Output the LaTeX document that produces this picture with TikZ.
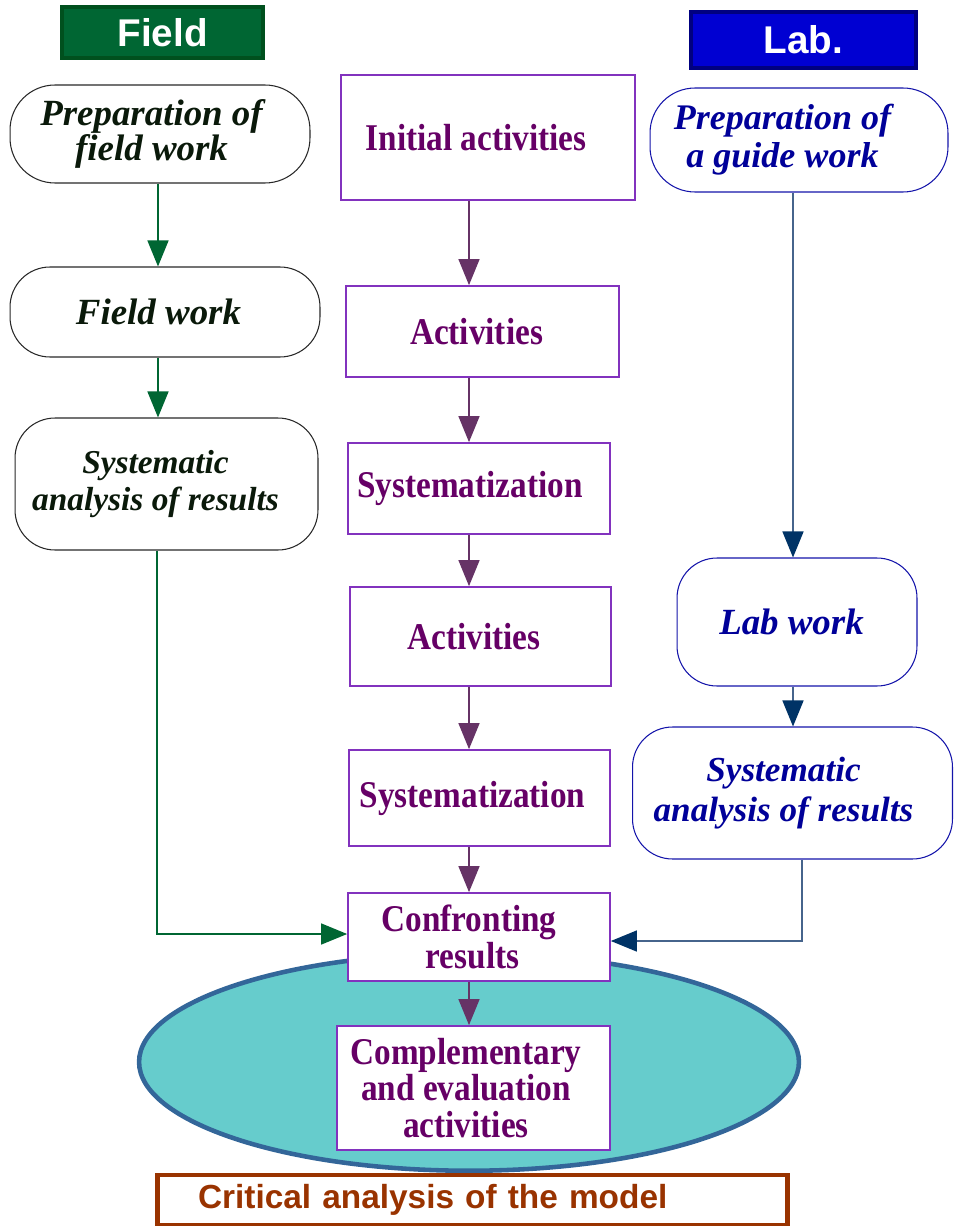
\documentclass[tikz,border=0pt]{standalone}
\usepackage{fontspec}
\setmainfont{Liberation Serif}
\newfontfamily\hdrfont{Liberation Sans}
\newfontfamily\condfont[FakeStretch=0.88]{Liberation Serif}
\usetikzlibrary{arrows.meta,shapes.geometric,calc}
\definecolor{fieldfill}{RGB}{0,102,51}
\definecolor{fieldbord}{RGB}{0,80,30}
\definecolor{labfill}{RGB}{0,0,210}
\definecolor{labbord}{RGB}{0,0,128}
\definecolor{ltext}{RGB}{10,25,10}
\definecolor{lbord}{RGB}{40,40,40}
\definecolor{rtext}{RGB}{0,0,153}
\definecolor{rbord}{RGB}{20,20,170}
\definecolor{ctext}{RGB}{102,0,102}
\definecolor{cbord}{RGB}{130,50,190}
\definecolor{garrow}{RGB}{0,102,51}
\definecolor{narrow}{RGB}{0,51,102}
\definecolor{nline}{RGB}{70,100,140}
\definecolor{parrow}{RGB}{102,51,102}
\definecolor{ellf}{RGB}{102,204,204}
\definecolor{ellb}{RGB}{51,102,153}
\definecolor{critc}{RGB}{153,51,0}
\newcommand{\lsh}[1]{\hspace*{#1}}
\begin{document}
\begin{tikzpicture}[x=0.02cm,y=-0.02cm,
  hdr/.style={draw, line width=2.3pt, text=white, inner sep=0,
    font=\hdrfont\bfseries\fontsize{22}{24}\selectfont},
  rbox/.style={draw, rounded corners=0.8cm, fill=white, line width=0.6pt,
    align=center, inner sep=0},
  leftbox/.style={rbox, draw=lbord, text=ltext},
  rightbox/.style={rbox, draw=rbord, text=rtext},
  cbox/.style={draw=cbord, line width=1pt, fill=white, text=ctext, align=center, inner sep=0,
    font=\condfont\bfseries\fontsize{21.5}{21}\selectfont},
  tip/.style={-{Triangle[length=0.52cm,width=0.42cm]}},
  garr/.style={tip, draw=garrow, line width=0.8pt},
  parr/.style={tip, draw=parrow, line width=0.8pt},
  narr/.style={-{Triangle[length=0.52cm,width=0.42cm,color=narrow]}, draw=nline, line width=0.8pt},
]
\useasboundingbox (0,0) rectangle (953,1226);

% headers
\node[hdr, draw=fieldbord, fill=fieldfill, minimum width=4.02cm, minimum height=1.02cm] (field) at (162.5,32.5) {Field};
\node[hdr, draw=labbord, fill=labfill, minimum width=4.5cm, minimum height=1.12cm] (lab) at (803.5,40) {Lab.};

% ellipse
\node[ellipse, draw=ellb, fill=ellf, line width=2.6pt, minimum width=13.2cm, minimum height=4.35cm, inner sep=0] (oval) at (469,1062) {};

% left column
\node[leftbox, rounded corners=0.9cm, minimum width=6cm, minimum height=1.96cm,
  font=\bfseries\itshape\fontsize{21}{20}\selectfont] (prepF) at (160,134) {\lsh{-0.34cm}Preparation of\\\lsh{-0.34cm}field work};
\node[leftbox, minimum width=6.2cm, minimum height=1.8cm,
  font=\bfseries\itshape\fontsize{21}{20}\selectfont] (fieldw) at (165,312) {\lsh{-0.26cm}Field work};
\node[leftbox, minimum width=6.06cm, minimum height=2.64cm,
  font=\bfseries\itshape\fontsize{19}{21}\selectfont] (sysL) at (166.5,484) {\lsh{-0.44cm}Systematic\\\lsh{-0.44cm}analysis of results};

% right column
\node[rightbox, rounded corners=0.9cm, minimum width=5.96cm, minimum height=2.08cm,
  font=\bfseries\itshape\fontsize{20.5}{21.5}\selectfont] (prepG) at (799,140) {\lsh{-0.66cm}Preparation of\\\lsh{-0.66cm}a guide work};
\node[rightbox, minimum width=4.8cm, minimum height=2.56cm,
  font=\bfseries\itshape\fontsize{21}{21}\selectfont] (labw) at (797,622) {\lsh{-0.22cm}Lab work};
\node[rightbox, minimum width=6.4cm, minimum height=2.64cm,
  font=\bfseries\itshape\fontsize{20}{22.7}\selectfont] (sysR) at (792.5,793) {\lsh{-0.36cm}Systematic\\\lsh{-0.36cm}analysis of results};

% centre column
\node[cbox, minimum width=5.88cm, minimum height=2.5cm] (init) at (488,137.5) {\lsh{-0.48cm}Initial activities};
\node[cbox, minimum width=5.46cm, minimum height=1.82cm] (act1) at (482.5,331.5) {\lsh{-0.24cm}Activities};
\node[cbox, minimum width=5.24cm, minimum height=1.82cm] (sys1) at (479,488.5) {\lsh{-0.36cm}Systematization};
\node[cbox, minimum width=5.22cm, minimum height=1.98cm] (act2) at (480.5,636.5) {\lsh{-0.26cm}Activities};
\node[cbox, minimum width=5.22cm, minimum height=1.92cm] (sys2) at (479.5,798) {\lsh{-0.28cm}Systematization};
\node[cbox, minimum width=5.24cm, minimum height=1.76cm] (conf) at (479,937) {\lsh{-0.4cm}Confronting\\\lsh{-0.26cm}results};
\node[cbox, minimum width=5.46cm, minimum height=2.48cm] (comp) at (473.5,1088) {\lsh{-0.3cm}Complementary\\\lsh{-0.3cm}and evaluation\\\lsh{-0.3cm}activities};

% bottom box
\node[draw=critc, line width=2.8pt, minimum width=12.6cm, minimum height=1.0cm, text width=10.98cm,
  align=left, inner sep=0, text=critc, font=\hdrfont\bfseries\fontsize{19}{20}\selectfont] (crit) at (472.5,1200) {Critical analysis of the model};

% connector x positions
\coordinate (lx) at (158,0);
\coordinate (lx2) at (157,0);
\coordinate (cx) at (469,0);
\coordinate (rx) at (793,0);
\coordinate (rx2) at (802,0);

% left arrows
\draw[garr] (prepF.south -| lx) -- (fieldw.north -| lx);
\draw[garr] (fieldw.south -| lx) -- (sysL.north -| lx);
\draw[garr] (sysL.south -| lx2) |- ($(conf.west)+(0,-3)$);

% centre arrows
\draw[parr] (init.south -| cx) -- (act1.north -| cx);
\draw[parr] (act1.south -| cx) -- (sys1.north -| cx);
\draw[parr] (sys1.south -| cx) -- (act2.north -| cx);
\draw[parr] (act2.south -| cx) -- (sys2.north -| cx);
\draw[parr] (sys2.south -| cx) -- (conf.north -| cx);
\draw[parr] (conf.south -| cx) -- (comp.north -| cx);

% right arrows
\draw[narr] (prepG.south -| rx) -- (labw.north -| rx);
\draw[narr] (labw.south -| rx) -- (sysR.north -| rx);
\draw[narr] (sysR.south -| rx2) |- ($(conf.east)+(0,4)$);
\end{tikzpicture}
\end{document}
